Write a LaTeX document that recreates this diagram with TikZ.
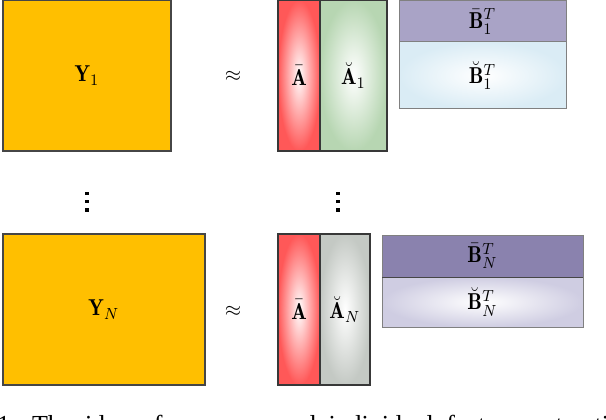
\documentclass[tikz,border=0pt]{standalone}
\usepackage{amsmath}
\usepackage{graphicx}
\usepackage{fontspec}
\newfontfamily\capfont{Liberation Serif}
\definecolor{yorange}{RGB}{255,191,0}
\definecolor{darkedge}{RGB}{70,70,70}
\definecolor{lightedge}{RGB}{128,128,128}
\definecolor{ared}{RGB}{255,88,88}
\definecolor{agreen}{RGB}{183,214,178}
\definecolor{agray}{RGB}{196,201,196}
\definecolor{bonetop}{RGB}{169,163,198}
\definecolor{bonelow}{RGB}{218,236,245}
\definecolor{bntop}{RGB}{138,130,174}
\definecolor{bnlow}{RGB}{207,205,226}
\newcommand{\mlab}[1]{\scalebox{2.05}[2.3]{$#1$}}
\newcommand{\mrel}[1]{\scalebox{2.1}{$#1$}}
\tikzset{
  ybox/.style={draw=darkedge, line width=1.1pt, fill=yorange, inner sep=0pt, outer sep=0pt},
  abox/.style={draw=darkedge!80!black, line width=1.3pt, inner sep=0pt, outer sep=0pt, inner color=white},
  bbox/.style={draw=lightedge, line width=1pt, inner sep=0pt, outer sep=0pt},
  approx/.style={inner sep=0pt},
  dotsq/.style={fill=black, inner sep=0pt, minimum size=3.4pt}
}
\begin{document}
\begin{tikzpicture}[x=1pt,y=-1pt]
\useasboundingbox (0,0) rectangle (606,420);
% top row
\node[ybox, minimum width=168pt, minimum height=151pt] (y1) at (87,75.5) {\mlab{\mathbf{Y}_1}};
\node[approx] (ap1) at (233,76) {\mrel{\approx}};
\node[abox, outer color=ared, minimum width=42pt, minimum height=151pt] (abar1) at (299,75.5) {\mlab{\bar{\mathbf{A}}}};
\node[abox, outer color=agreen, minimum width=67pt, minimum height=151pt] (abr1) at (353.5,75.5) {\mlab{\breve{\mathbf{A}}_1}};
\node[bbox, fill=bonetop, minimum width=167pt, minimum height=41pt] (bbar1) at (482.5,21.5) {\mlab{\bar{\mathbf{B}}_1^T}};
\node[bbox, inner color=white, outer color=bonelow, minimum width=167pt, minimum height=67pt] (bbr1) at (482.5,75.5) {\mlab{\breve{\mathbf{B}}_1^T}};
% vertical dots
\foreach \yy [count=\i] in {193.5,201.5,210} {
  \node[dotsq] (dl\i) at (87,\yy) {};
  \node[dotsq] (dr\i) at (338,\yy) {};
}
% bottom row
\node[ybox, minimum width=202pt, minimum height=151pt] (yn) at (104,309.5) {\mlab{\mathbf{Y}_N}};
\node[approx] (apn) at (233,311) {\mrel{\approx}};
\node[abox, outer color=ared, minimum width=42pt, minimum height=151pt] (abarn) at (299,309.5) {\mlab{\bar{\mathbf{A}}}};
\node[abox, outer color=agray, minimum width=50pt, minimum height=151pt] (abrn) at (345,309.5) {\mlab{\breve{\mathbf{A}}_N}};
\node[bbox, fill=bntop, minimum width=201pt, minimum height=42pt] (bbarn) at (482.5,256) {\mlab{\bar{\mathbf{B}}_N^T}};
\node[bbox, inner color=white, outer color=bnlow, minimum width=201pt, minimum height=50pt] (bbrn) at (482.5,302) {\mlab{\breve{\mathbf{B}}_N^T}};
\draw[darkedge, line width=1pt] (bbarn.south west) -- (bbarn.south east);
% caption, cut by the lower edge
\begin{scope}
\clip (0,0) rectangle (606,420);
\node[anchor=base west, inner sep=0pt, font=\capfont\fontsize{26}{30}\selectfont] (cap) at (-3,433)
  {\spaceskip=12.5pt\relax 1: The idea of common and individual feature extraction};
\end{scope}
\end{tikzpicture}
\end{document}
